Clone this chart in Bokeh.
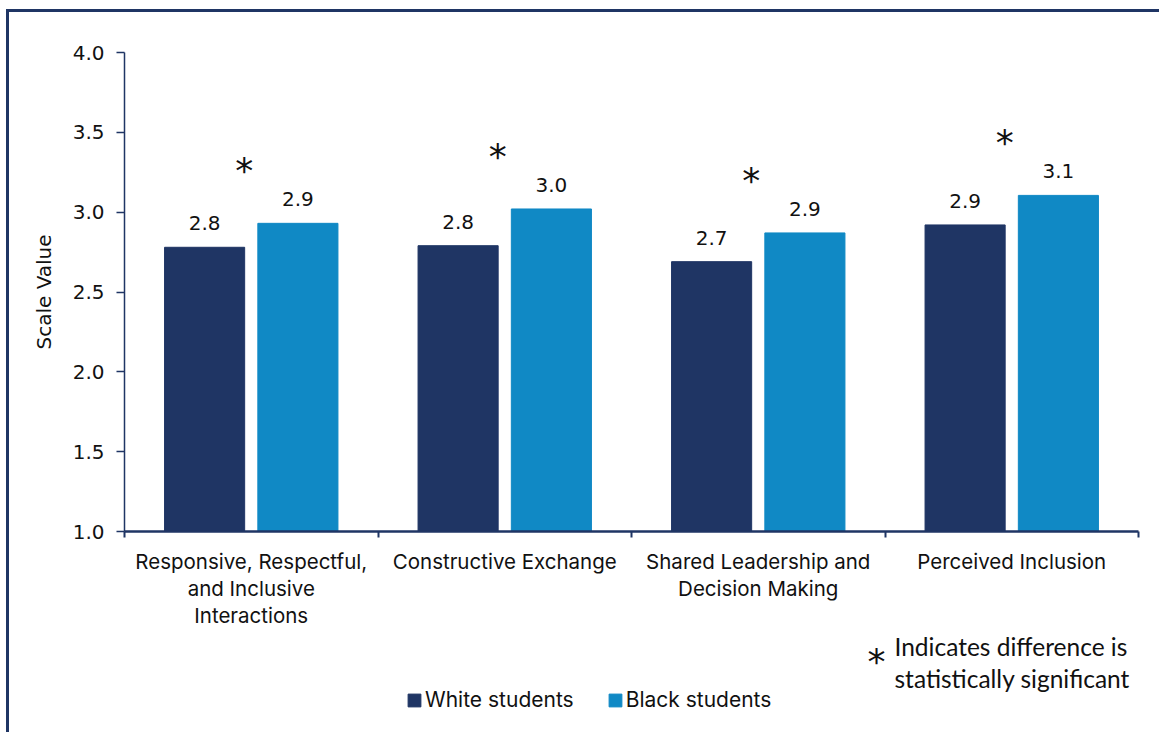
from bokeh.plotting import figure
from bokeh.layouts import column
from bokeh.models import (Range1d, LinearAxis, FixedTicker, NumeralTickFormatter,
                          ColumnDataSource, LabelSet, Label, Legend, LegendItem)
from bokeh.core.properties import value
from bokeh.transform import dodge
from bokeh.embed import file_html
from bokeh.resources import INLINE

# ---------------- data ----------------
categories = ["Responsive, Respectful,\nand Inclusive\nInteractions",
              "Constructive Exchange",
              "Shared Leadership and\nDecision Making",
              "Perceived Inclusion"]
white_students = [2.78, 2.79, 2.69, 2.92]
black_students = [2.93, 3.02, 2.87, 3.105]
significant = [True, True, True, True]
y_ticks = [1.0, 1.5, 2.0, 2.5, 3.0, 3.5, 4.0]
series_names = ["White students", "Black students"]
y_title = "Scale Value"
note_star = "*"
note_text = "Indicates difference is\nstatistically significant"

# ---------------- style ----------------
NAVY = "#1F3564"
BLUE = "#1089C5"
TXT = "#111111"
NUM_FONT = "DejaVu Sans"
CAT_FONT = "Inter"
NOTE_FONT = "Lato"
STAR_FONT = "DejaVu Sans"
OFF = 0.184      # half distance between the two bars of a group (category units)
BAR_W = 0.316
W = 1150

n = len(categories)
centers = [i + 0.5 for i in range(n)]          # category slots on the x scale
src = ColumnDataSource(dict(
    xc=centers,
    white=white_students,
    black=black_students,
    wlab=[f"{v:.1f}" for v in white_students],
    blab=[f"{v:.1f}" for v in black_students],
    star=["*" if s else "" for s in significant],
))

p = figure(width=W, height=620,
           x_range=Range1d(0, n), y_range=Range1d(1.0, 4.0),
           output_backend="svg", toolbar_location=None,
           x_axis_location=None, y_axis_location=None,
           min_border_left=115, min_border_right=21, min_border_top=40, min_border_bottom=101)
p.outline_line_color = None
p.xgrid.visible = False
p.ygrid.visible = False
p.background_fill_color = "white"
p.border_fill_color = "white"

# y axis
yaxis = LinearAxis(ticker=FixedTicker(ticks=y_ticks), formatter=NumeralTickFormatter(format="0.0"),
                   axis_label=y_title)
yaxis.axis_line_color = NAVY
yaxis.axis_line_width = 1.5
yaxis.major_tick_line_color = NAVY
yaxis.major_tick_line_width = 1.5
yaxis.major_tick_out = 8
yaxis.major_tick_in = 0
yaxis.minor_tick_line_color = None
yaxis.major_label_text_font = NUM_FONT
yaxis.major_label_text_font_size = "20px"
yaxis.major_label_text_color = TXT
yaxis.major_label_standoff = 12
yaxis.axis_label_text_font = NUM_FONT
yaxis.axis_label_text_font_size = "20px"
yaxis.axis_label_text_font_style = "normal"
yaxis.axis_label_text_color = TXT
yaxis.axis_label_standoff = 14
p.add_layout(yaxis, "left")

# x axis: labels at category centres, ticks at category boundaries
xaxis = LinearAxis(ticker=FixedTicker(ticks=centers, minor_ticks=list(range(n + 1))))
xaxis.major_label_overrides = {c: lab for c, lab in zip(centers, categories)}
xaxis.axis_line_color = NAVY
xaxis.axis_line_width = 2.5
xaxis.major_tick_line_color = None
xaxis.major_tick_out = 6
xaxis.major_tick_in = 0
xaxis.minor_tick_line_color = NAVY
xaxis.minor_tick_line_width = 2
xaxis.minor_tick_out = 6
xaxis.minor_tick_in = 0
xaxis.major_label_text_font = CAT_FONT
xaxis.major_label_text_font_size = "20.5px"
xaxis.major_label_text_color = TXT
xaxis.major_label_text_line_height = 1.08
xaxis.major_label_standoff = 11
p.add_layout(xaxis, "below")

# bars
r_white = p.vbar(x=dodge("xc", -OFF), top="white", bottom=1.0, width=BAR_W,
                 source=src, fill_color=NAVY, line_color=NAVY)
r_black = p.vbar(x=dodge("xc", OFF), top="black", bottom=1.0, width=BAR_W,
                 source=src, fill_color=BLUE, line_color=BLUE)

# value labels
for col, lab, off in (("white", "wlab", -OFF), ("black", "blab", OFF)):
    p.add_layout(LabelSet(x=dodge("xc", off), y=col, text=lab, source=src,
                          text_align="center", text_baseline="alphabetic", y_offset=17,
                          text_font=value(NUM_FONT), text_font_size=value("20px"),
                          text_color=TXT))

# significance stars
p.add_layout(LabelSet(x=dodge("xc", -0.028), y="black", text="star", source=src,
                      text_align="center", text_baseline="alphabetic", y_offset=40,
                      text_font=value(STAR_FONT), text_font_size=value("36px"),
                      text_color=TXT))

# ---------------- bottom strip: legend + note ----------------
p2 = figure(width=W, height=100, x_range=Range1d(0, 1), y_range=Range1d(0, 1),
            output_backend="svg", toolbar_location=None,
            x_axis_location=None, y_axis_location=None,
            min_border_left=0, min_border_right=0, min_border_top=0, min_border_bottom=0)
p2.outline_line_color = None
p2.xgrid.visible = False
p2.ygrid.visible = False
p2.background_fill_color = "white"
p2.border_fill_color = "white"

# hidden legend proxies: only their legend swatches are drawn
lw = p2.vbar(x=[0.5], top=[0.5], width=0.1, fill_color=NAVY, line_color=NAVY, visible=False)
lb = p2.vbar(x=[0.5], top=[0.5], width=0.1, fill_color=BLUE, line_color=BLUE, visible=False)

legend = Legend(items=[LegendItem(label=series_names[0], renderers=[lw]),
                       LegendItem(label=series_names[1], renderers=[lb])],
                location=(282, 20), orientation="horizontal", click_policy="none",
                glyph_width=16, glyph_height=16, label_standoff=3, spacing=33,
                padding=0, margin=0, border_line_color=None, background_fill_alpha=0,
                inactive_fill_alpha=0,
                label_text_font=CAT_FONT, label_text_font_size="21px", label_text_color=TXT)
p2.add_layout(legend)

p2.add_layout(Label(x=752, y=71, x_units="screen", y_units="screen", text=note_star,
                    text_align="center", text_baseline="alphabetic",
                    text_font=STAR_FONT, text_font_size="36px", text_color=TXT))
p2.add_layout(Label(x=770, y=101, x_units="screen", y_units="screen", text=note_text,
                    text_align="left", text_baseline="top", text_line_height=1.11,
                    text_font=NOTE_FONT, text_font_size="24.5px", text_color=TXT))

layout = column(p, p2, spacing=0)
layout.styles = {"border-left": f"3px solid {NAVY}", "border-top": f"3px solid {NAVY}",
                 "margin-left": "6px", "margin-top": "9px"}

open("out.html", "w").write(file_html(layout, INLINE))
